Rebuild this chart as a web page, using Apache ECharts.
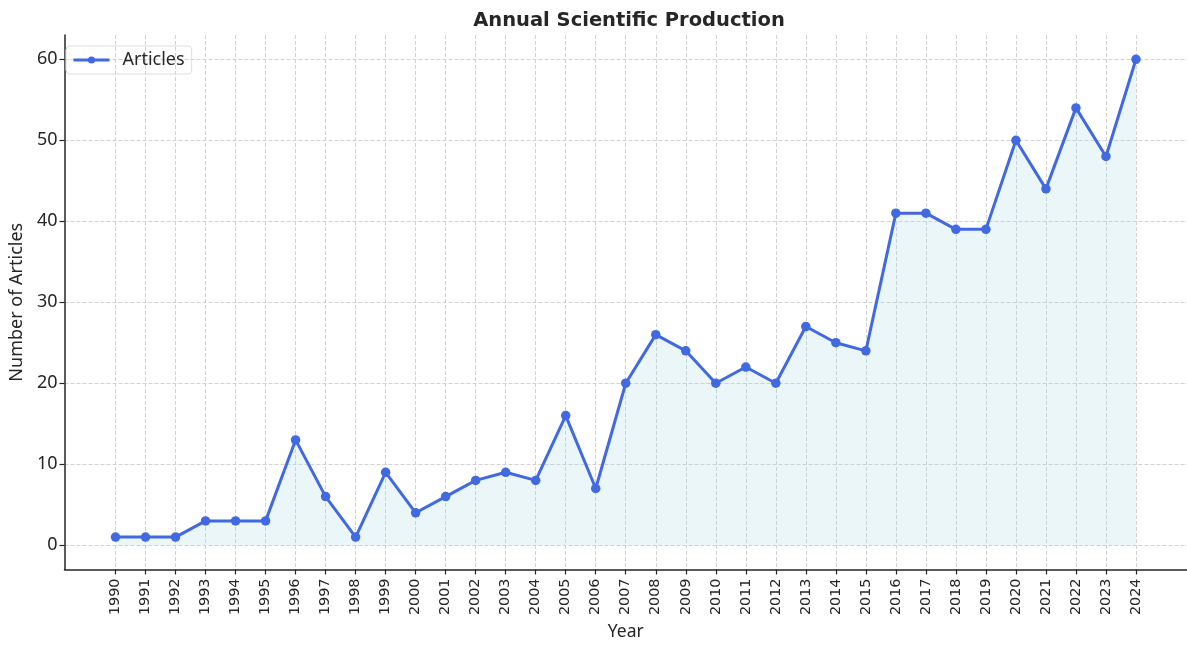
<!DOCTYPE html>
<html>
<head>
    <meta charset="UTF-8">
    <title>Annual Scientific Production</title>
    <script type="text/javascript" src="https://cdn.jsdelivr.net/npm/echarts@6/dist/echarts.min.js"></script>
    <style>
        html, body { margin: 0; padding: 0; background: #fff; }
        #main { width: 1187px; height: 646px; }
    </style>
</head>
<body>
<div id="main"></div>
<script>
    // data
    var years = [1990, 1991, 1992, 1993, 1994, 1995, 1996, 1997, 1998, 1999,
        2000, 2001, 2002, 2003, 2004, 2005, 2006, 2007, 2008, 2009,
        2010, 2011, 2012, 2013, 2014, 2015, 2016, 2017, 2018, 2019,
        2020, 2021, 2022, 2023, 2024];
    var articles = [1, 1, 1, 3, 3, 3, 13, 6, 1, 9,
        4, 6, 8, 9, 8, 16, 7, 20, 26, 24,
        20, 22, 20, 27, 25, 24, 41, 41, 39, 39,
        50, 44, 54, 48, 60];
    var yTicks = [0, 10, 20, 30, 40, 50, 60];

    var dejavu = 'DejaVu Sans';
    var noto = 'Noto Sans';
    var textColor = '#262626';
    var gridLine = { show: true, lineStyle: { color: '#d2d2d2', type: [4, 2], width: 1 } };

    var points = [];
    for (var i = 0; i < years.length; i++) {
        points.push([years[i], articles[i]]);
    }

    var myChart = echarts.init(document.getElementById('main'));
    myChart.setOption({
        animation: false,
        title: {
            text: 'Annual Scientific Production',
            left: 624,
            textAlign: 'center',
            top: 6,
            textStyle: { fontFamily: dejavu, fontSize: 19.5, fontWeight: 'bold', color: textColor }
        },
        legend: {
            left: 66,
            top: 46,
            padding: [5, 7, 5, 6],
            borderColor: '#dcdcdc',
            borderWidth: 1,
            borderRadius: 4,
            itemWidth: 36,
            itemHeight: 9,
            lineStyle: { width: 3 },
            textStyle: { fontFamily: noto, fontSize: 18, color: textColor, padding: [0, 0, 0, 8] },
            data: ['Articles']
        },
        grid: { left: 58, right: -4, top: 35, bottom: 70, containLabel: false },
        xAxis: {
            type: 'value',
            min: 1988.3,
            max: 2025.7,
            name: 'Year',
            nameLocation: 'middle',
            nameGap: 49,
            nameTextStyle: { fontFamily: noto, fontSize: 17.5, color: textColor },
            axisLine: { show: true, onZero: false, lineStyle: { color: textColor, width: 1.5 } },
            axisTick: { show: true, inside: false, length: 5, customValues: years, lineStyle: { color: textColor, width: 1.2 } },
            axisLabel: {
                customValues: years,
                rotate: 90,
                margin: 9,
                fontFamily: dejavu,
                fontSize: 14.4,
                color: textColor,
                formatter: function (v) { return String(v); }
            },
            splitLine: gridLine
        },
        yAxis: {
            type: 'value',
            min: -3,
            max: 63,
            name: 'Number of Articles',
            nameLocation: 'middle',
            nameGap: 34,
            nameTextStyle: { fontFamily: noto, fontSize: 18, color: textColor },
            axisLine: { show: true, lineStyle: { color: textColor, width: 1.5 } },
            axisTick: { show: true, inside: false, length: 5, customValues: yTicks, lineStyle: { color: textColor, width: 1.2 } },
            axisLabel: { customValues: yTicks, margin: 7, fontFamily: noto, fontSize: 18, color: textColor },
            splitLine: gridLine
        },
        series: [{
            name: 'Articles',
            type: 'line',
            data: points,
            symbol: 'circle',
            symbolSize: 9.5,
            showSymbol: true,
            color: '#4169e1',
            lineStyle: { width: 3, color: '#4169e1' },
            itemStyle: { color: '#4169e1' },
            areaStyle: { color: 'rgba(173,216,230,0.34)', origin: 0 }
        }]
    });
</script>
</body>
</html>
